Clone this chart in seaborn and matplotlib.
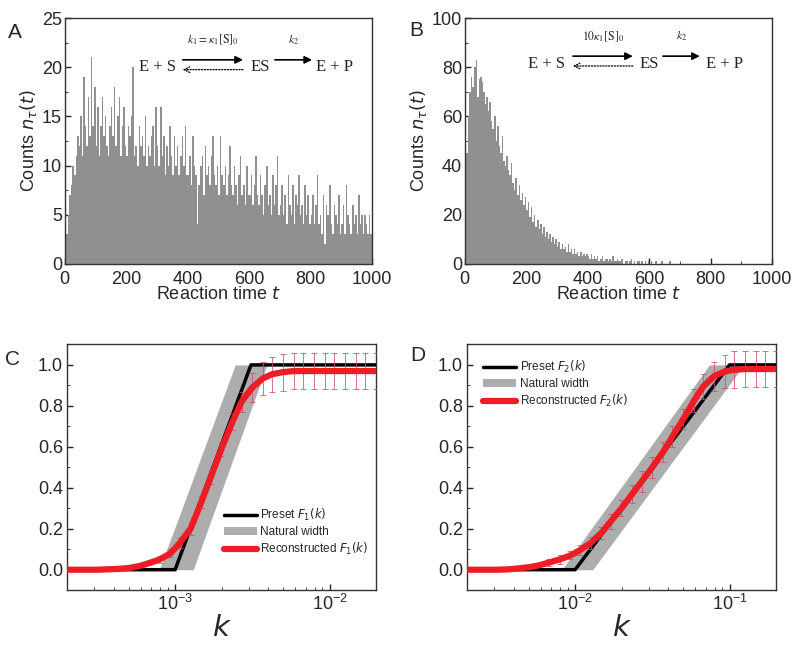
import numpy as np
import matplotlib
matplotlib.use("Agg")
import matplotlib.pyplot as plt
import seaborn as sns
from matplotlib.ticker import MultipleLocator

# histogram A: counts per 5-unit bin, t = 0 .. 1000
counts_a = [
    2, 3, 5, 7, 8, 10, 9, 11, 13, 12, 15, 11, 19, 14, 12, 17, 13, 21, 14, 18,
    12, 16, 11, 14, 17, 13, 15, 12, 11, 14, 16, 13, 18, 12, 15, 17, 11, 14, 16, 12,
    11, 14, 13, 15, 20, 11, 12, 10, 14, 12, 13, 11, 15, 10, 12, 11, 13, 14, 10, 16,
    12, 10, 16, 11, 13, 9, 12, 10, 14, 11, 9, 13, 10, 12, 9, 11, 13, 10, 14, 9,
    9, 11, 8, 13, 10, 9, 4, 8, 10, 11, 7, 12, 9, 10, 8, 11, 13, 9, 8, 10,
    7, 13, 9, 8, 10, 7, 9, 12, 8, 7, 10, 8, 6, 9, 11, 7, 8, 6, 10, 7,
    7, 9, 6, 8, 11, 7, 6, 9, 7, 5, 8, 10, 6, 7, 5, 9, 6, 8, 11, 5,
    6, 8, 5, 7, 4, 9, 6, 5, 8, 4, 7, 6, 9, 5, 6, 4, 8, 5, 7, 4,
    5, 7, 4, 6, 9, 4, 5, 3, 7, 2, 6, 5, 8, 4, 3, 6, 5, 4, 7, 3,
    4, 6, 3, 8, 5, 4, 3, 6, 4, 5, 3, 7, 4, 5, 3, 5, 4, 3, 5, 3,
]
# histogram B: counts per 5-unit bin, t = 0 .. 700 (zero afterwards)
counts_b = [
    18, 45, 60, 70, 76, 72, 80, 83, 68, 75, 76, 74, 70, 65, 68, 62, 66, 58, 55, 60,
    50, 56, 48, 45, 52, 42, 40, 44, 38, 36, 41, 33, 30, 35, 28, 32, 26, 29, 24, 27,
    22, 25, 19, 23, 17, 20, 15, 18, 14, 16, 12, 15, 11, 13, 10, 12, 9, 11, 8, 10,
    7, 9, 6, 8, 6, 7, 5, 8, 5, 6, 4, 6, 4, 5, 3, 5, 3, 4, 3, 4,
    3, 2, 4, 2, 3, 2, 3, 1, 2, 3, 1, 2, 2, 1, 2, 1, 3, 1, 1, 2,
    1, 1, 2, 0, 1, 1, 0, 1, 2, 0, 1, 0, 1, 1, 0, 1, 0, 1, 0, 1,
    0, 1, 0, 0, 1, 0, 0, 0, 1, 0, 0, 0, 0, 1, 0, 0, 0, 0, 0, 0,
]
BIN = 5

# panel C (log10 k grid), reconstructed F1 and its error
logk_c = [-3.70, -3.63, -3.57, -3.50, -3.43, -3.37, -3.30, -3.23, -3.17, -3.10,
          -3.03, -2.97, -2.90, -2.83, -2.77, -2.70, -2.63, -2.57, -2.50, -2.43,
          -2.37, -2.30, -2.23, -2.17, -2.10, -2.03, -1.97, -1.90, -1.83, -1.77, -1.70]
recon_c = [0.0, 0.0, 0.0, 0.0, 0.002, 0.004, 0.008, 0.018, 0.032, 0.05,
           0.08, 0.13, 0.20, 0.33, 0.45, 0.59, 0.72, 0.82, 0.89, 0.935,
           0.955, 0.965, 0.97, 0.97, 0.97, 0.97, 0.97, 0.97, 0.97, 0.97, 0.97]
err_c = [0, 0, 0, 0, 0, 0, 0, 0, 0.01, 0.015,
         0.02, 0.025, 0.03, 0.03, 0.03, 0.035, 0.04, 0.05, 0.07, 0.08,
         0.085, 0.09, 0.09, 0.09, 0.09, 0.09, 0.09, 0.09, 0.09, 0.09, 0.09]
preset_c_k = [2e-4, 1e-3, 3.1e-3, 2e-2]
preset_c_f = [0, 0, 1, 1]
band_c_y = [0, 1]
band_c_lo = [7.9e-4, 2.45e-3]
band_c_hi = [1.31e-3, 3.94e-3]

# panel D
logk_d = [-2.70, -2.63, -2.57, -2.50, -2.43, -2.37, -2.30, -2.23, -2.17, -2.10,
          -2.03, -1.97, -1.90, -1.83, -1.77, -1.70, -1.63, -1.57, -1.50, -1.43,
          -1.37, -1.30, -1.23, -1.17, -1.10, -1.03, -0.97, -0.90, -0.83, -0.77, -0.70]
recon_d = [0.0, 0.0, 0.0, 0.0, 0.002, 0.006, 0.012, 0.022, 0.035, 0.05,
           0.07, 0.095, 0.13, 0.18, 0.235, 0.30, 0.37, 0.43, 0.50, 0.575,
           0.65, 0.735, 0.825, 0.895, 0.945, 0.968, 0.976, 0.98, 0.98, 0.98, 0.98]
err_d = [0, 0, 0, 0, 0, 0, 0, 0, 0.015, 0.02,
         0.02, 0.025, 0.03, 0.03, 0.035, 0.04, 0.045, 0.05, 0.05, 0.05,
         0.05, 0.05, 0.055, 0.06, 0.07, 0.08, 0.09, 0.09, 0.09, 0.09, 0.09]
preset_d_k = [2e-3, 1e-2, 1e-1, 2e-1]
preset_d_f = [0, 0, 1, 1]
band_d_y = [0, 1]
band_d_lo = [8.2e-3, 7.4e-2]
band_d_hi = [1.3e-2, 1.24e-1]

sns.set_style("ticks", {"xtick.direction": "in", "ytick.direction": "in"})
plt.rcParams["font.family"] = ["Liberation Sans", "DejaVu Sans"]
plt.rcParams["axes.linewidth"] = 1.0
plt.rcParams["axes.edgecolor"] = "#333333"

HIST_COLOR = "#8e9092"
RED = "#ee1c25"
FS = 13

fig = plt.figure(figsize=(8, 6.45), dpi=100)
ax_a = fig.add_axes([0.081, 0.591, 0.384, 0.381])
ax_b = fig.add_axes([0.581, 0.591, 0.384, 0.381])
ax_c = fig.add_axes([0.084, 0.085, 0.386, 0.381])
ax_d = fig.add_axes([0.584, 0.085, 0.386, 0.381])


def draw_hist(ax, counts, ymax, ymaj):
    t = [BIN * i + BIN / 2 for i in range(len(counts))]
    edges = [BIN * i for i in range(len(counts) + 1)]
    sns.histplot(x=t, weights=counts, bins=edges, color=HIST_COLOR, alpha=1,
                 linewidth=0, edgecolor=None, ax=ax)
    ax.set_xlim(0, 1000)
    ax.set_ylim(0, ymax)
    ax.xaxis.set_major_locator(MultipleLocator(200))
    ax.xaxis.set_minor_locator(MultipleLocator(100))
    ax.yaxis.set_major_locator(MultipleLocator(ymaj))
    ax.yaxis.set_minor_locator(MultipleLocator(ymaj / 2))
    ax.tick_params(labelsize=FS, length=4, width=1)
    ax.tick_params(axis="x", pad=5)
    ax.tick_params(axis="y", pad=2)
    ax.tick_params(which="minor", length=2.5)
    ax.set_xlabel("Reaction time $t$", fontsize=FS, labelpad=-1)
    ax.set_ylabel(r"Counts $n_\tau(t)$", fontsize=FS, labelpad=2)


def scheme(ax, xs, y, rate1, arr1, arr2):
    kw = dict(transform=ax.transAxes, family="Liberation Serif", fontsize=12,
              ha="center", va="center")
    ax.text(xs[0], y, "E + S", **kw)
    ax.text(xs[1], y, "ES", **kw)
    ax.text(xs[2], y, "E + P", **kw)
    ax.annotate("", xy=(arr1[1], y + 0.03), xytext=(arr1[0], y + 0.03),
                xycoords="axes fraction",
                arrowprops=dict(arrowstyle="-|>", color="black", lw=1.2,
                                mutation_scale=11, shrinkA=0, shrinkB=0))
    ax.annotate("", xy=(arr1[0], y - 0.01), xytext=(arr1[1], y - 0.01),
                xycoords="axes fraction",
                arrowprops=dict(arrowstyle="->", color="black", lw=0.9, ls=(0, (1, 1.3)),
                                mutation_scale=10, shrinkA=0, shrinkB=0))
    ax.annotate("", xy=(arr2[1], y + 0.03), xytext=(arr2[0], y + 0.03),
                xycoords="axes fraction",
                arrowprops=dict(arrowstyle="-|>", color="black", lw=1.2,
                                mutation_scale=11, shrinkA=0, shrinkB=0))
    ax.text((arr1[0] + arr1[1]) / 2, y + 0.11, rate1, transform=ax.transAxes,
            fontsize=8.5, ha="center", va="center", math_fontfamily="stix")
    ax.text((arr2[0] + arr2[1]) / 2, y + 0.11, "$k_2$", transform=ax.transAxes,
            fontsize=8.5, ha="center", va="center", math_fontfamily="stix")


draw_hist(ax_a, counts_a, 25, 5)
draw_hist(ax_b, counts_b, 100, 20)
scheme(ax_a, [0.303, 0.635, 0.877], 0.80, r"$k_1=\kappa_1[\mathrm{S}]_0$",
       [0.384, 0.58], [0.684, 0.805])
scheme(ax_b, [0.267, 0.60, 0.847], 0.815, r"$10\kappa_1[\mathrm{S}]_0$",
       [0.352, 0.547], [0.645, 0.765])
ax_a.text(-0.186, 0.943, "A", transform=ax_a.transAxes, fontsize=15, va="center")
ax_b.text(-0.18, 0.95, "B", transform=ax_b.transAxes, fontsize=15, va="center")


def draw_cdf(ax, logk, recon, err, pk, pf, by, blo, bhi, idx, xlim, legloc, bbox):
    k = [10 ** v for v in logk]
    ax.fill_betweenx(by, blo, bhi, color="#adadad", lw=0, label="Natural width")
    sns.lineplot(x=pk, y=pf, color="black", lw=2.5, ax=ax,
                 label=f"Preset $F_{idx}(k)$", zorder=3)
    kk = [a for a, e in zip(k, err) if e > 0]
    ff = [a for a, e in zip(recon, err) if e > 0]
    ee = [e for e in err if e > 0]
    ax.errorbar(kk, ff, yerr=ee, fmt="none", ecolor="#c8506e", elinewidth=0.7,
                capsize=2.5, capthick=0.7, alpha=0.8, zorder=4)
    sns.lineplot(x=k, y=recon, color=RED, lw=4.5, ax=ax,
                 label=f"Reconstructed $F_{idx}(k)$", zorder=5)
    ax.set_xscale("log")
    ax.set_xlim(*xlim)
    ax.set_ylim(-0.1, 1.1)
    ax.yaxis.set_major_locator(MultipleLocator(0.2))
    ax.yaxis.set_minor_locator(MultipleLocator(0.1))
    ax.tick_params(labelsize=FS, length=4, width=1, pad=3)
    ax.tick_params(which="minor", length=2.5)
    ax.set_xlabel("$k$", fontsize=21, labelpad=0)
    h, l = ax.get_legend_handles_labels()
    order = [l.index(f"Preset $F_{idx}(k)$"), l.index("Natural width"),
             l.index(f"Reconstructed $F_{idx}(k)$")]
    ax.legend([h[i] for i in order], [l[i] for i in order], loc=legloc,
              bbox_to_anchor=bbox, frameon=False, fontsize=8.5, handlelength=2.8,
              handletextpad=0.3, labelspacing=0.25, borderaxespad=0.3)


draw_cdf(ax_c, logk_c, recon_c, err_c, preset_c_k, preset_c_f, band_c_y,
         band_c_lo, band_c_hi, 1, (2e-4, 2e-2), "lower left", (0.48, 0.1))
draw_cdf(ax_d, logk_d, recon_d, err_d, preset_d_k, preset_d_f, band_d_y,
         band_d_lo, band_d_hi, 2, (2e-3, 2e-1), "upper left", (0.025, 0.975))
ax_c.text(-0.2, 0.94, "C", transform=ax_c.transAxes, fontsize=15, va="center")
ax_d.text(-0.185, 0.955, "D", transform=ax_d.transAxes, fontsize=15, va="center")

fig.savefig("out.png", dpi=100)
